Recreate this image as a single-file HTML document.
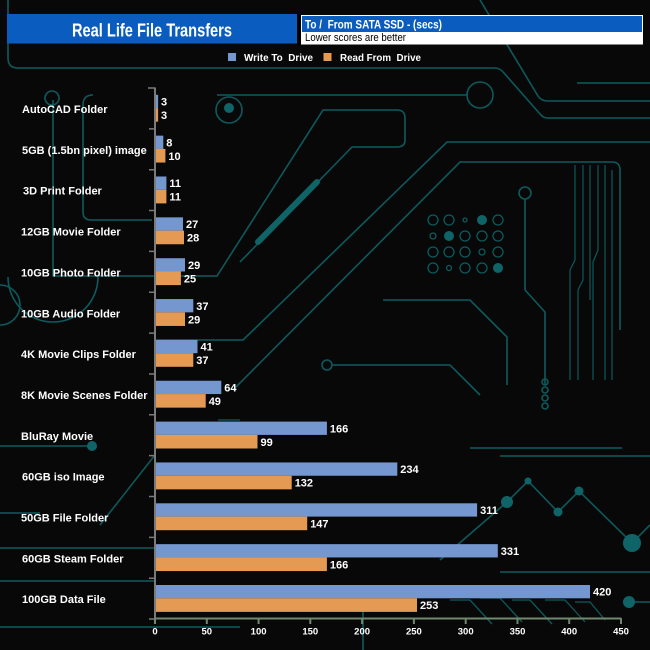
<!DOCTYPE html>
<html><head><meta charset="utf-8"><style>
html,body{margin:0;padding:0;background:#080808;}
svg{display:block;}
text{font-family:"Liberation Sans",Arial,sans-serif;}
</style></head><body>
<svg width="650" height="650" viewBox="0 0 650 650" xmlns="http://www.w3.org/2000/svg">
<rect width="650" height="650" fill="#080808"/>
<!-- circuit background -->
<g fill="none" stroke="#0d5a5d" stroke-width="1.6">
<path d="M8,0 V58 Q8,68 18,68 H495 Q500,68 504,73 L540,114 Q543,118 548,118 H650"/>
<path d="M480,0 L538,96 Q541,101 548,101 H650"/>
<path d="M577,83 H650"/>
<path d="M93,95 Q83,95 83,105 V212 Q83,220 91,220 H152"/>
<path d="M217,95 H468"/>
<circle cx="480" cy="95" r="13"/>
<circle cx="229" cy="110" r="13"/>
<path d="M53,100 V276 H217 L323,110 H397 Q405,110 405,118 V140 Q405,147 397,147 H352 L240,262"/>
<path d="M8,277 A45,45 0 0 0 98,277"/>
<circle cx="52" cy="98" r="7"/>
<path d="M155,340 H243 L447,142 H650"/>
<path d="M233,390 L460,162 H612 Q620,162 620,170 V330"/>
<path d="M575,165 V260 L570,270 V380 M583,165 V280 L578,290 V380 M590,165 V300 M598,165 V250 L593,262 V380 M605,165 V380 M612,170 V380" stroke-width="1.2"/>
<circle cx="525" cy="193" r="6"/>
<path d="M525,199 V290 L545,312 V385"/>
<path d="M383,300 H470 L507,337 V385"/>
<circle cx="327" cy="365" r="5"/>
<path d="M332,365 H450 L480,395"/>
<path d="M440,560 L507,502 L528,481 L558,512 L579,491 L632,543 L650,525"/>
<path d="M629,602 H650"/>
<path d="M500,572 H650"/>
<path d="M470,448 H622 M500,456 H650"/>
<path d="M0,446 H88"/>
<path d="M0,548 H155 M0,581 H155"/>
<path d="M0,513 H40 M100,525 L155,455"/>
<path d="M0,627 H240 M363,607 V650"/>
<path d="M450,600 H470 L492,624 M480,598 H500 L522,622 M512,600 H530 L552,624 M545,600 H565 L585,622 M575,602 H590 L605,620" stroke-width="1.3"/>
<path d="M218,420 H240 M215,425 H238 M218,430 H240" stroke-width="1.2"/>
<circle cx="545" cy="382" r="3"/><circle cx="545" cy="390" r="3"/><circle cx="545" cy="398" r="3"/><circle cx="545" cy="406" r="3"/>
<path d="M0,285 A20,20 0 0 1 0,325"/>
</g>
<g fill="#0f6468">
<circle cx="229" cy="108" r="5"/>
<circle cx="92" cy="446" r="5"/>
<circle cx="507" cy="502" r="6"/>
<circle cx="528" cy="481" r="3.5"/>
<circle cx="558" cy="512" r="4.5"/>
<circle cx="579" cy="491" r="4.5"/>
<circle cx="632" cy="543" r="9"/>
<circle cx="629" cy="602" r="6"/>
<path d="M317,182 L258,242" stroke="#0f6468" stroke-width="6" stroke-linecap="round"/>
</g>
<!-- dot grid -->
<g fill="none" stroke="#0d5a5d" stroke-width="1.3">
<circle cx="433" cy="220" r="5"/><circle cx="449" cy="220" r="5"/><circle cx="465" cy="220" r="2"/><circle cx="498" cy="220" r="5"/>
<circle cx="433" cy="236" r="3"/><circle cx="465" cy="236" r="5"/><circle cx="482" cy="236" r="5"/><circle cx="498" cy="236" r="5"/>
<circle cx="433" cy="252" r="5"/><circle cx="449" cy="252" r="5"/><circle cx="465" cy="252" r="5"/><circle cx="482" cy="252" r="3"/><circle cx="498" cy="252" r="5"/>
<circle cx="433" cy="268" r="5"/><circle cx="449" cy="268" r="2.5"/><circle cx="465" cy="268" r="5"/><circle cx="482" cy="268" r="5"/>
</g>
<g fill="#0f6468">
<circle cx="482" cy="220" r="5"/><circle cx="449" cy="236" r="5"/><circle cx="498" cy="268" r="5"/>
</g>

<!-- header -->
<rect x="7" y="14" width="290" height="29.5" fill="#0b5cbf"/>
<text x="152" y="36.5" text-anchor="middle" font-size="18" font-weight="bold" fill="#ffffff" textLength="160" lengthAdjust="spacingAndGlyphs">Real Life File Transfers</text>
<rect x="297" y="14" width="4" height="31" fill="#000"/>
<rect x="301" y="15" width="342" height="17" fill="#0b5cbf"/>
<rect x="301" y="32" width="342" height="12" fill="#ffffff"/>
<rect x="301.5" y="15.5" width="341" height="28.5" fill="none" stroke="#ffffff" stroke-width="1"/>
<text x="305" y="28.5" font-size="12" font-weight="bold" fill="#ffffff" style="white-space:pre" textLength="137" lengthAdjust="spacingAndGlyphs">To /  From SATA SSD - (secs)</text>
<text x="305" y="41" font-size="11" fill="#000000" textLength="101" lengthAdjust="spacingAndGlyphs">Lower scores are better</text>

<!-- legend -->
<rect x="228" y="53" width="8" height="8" fill="#7597cf"/>
<text x="244" y="61" font-size="10" font-weight="bold" fill="#ffffff" style="white-space:pre" textLength="69" lengthAdjust="spacingAndGlyphs">Write To  Drive</text>
<rect x="323.5" y="53" width="8" height="8" fill="#e49a52"/>
<text x="340" y="61" font-size="10" font-weight="bold" fill="#ffffff" style="white-space:pre" textLength="81" lengthAdjust="spacingAndGlyphs">Read From  Drive</text>

<!-- bars -->
<g>
<rect x="156" y="94.8" width="2.1" height="13.3" fill="#7597cf"/><rect x="156" y="108.1" width="2.1" height="13.6" fill="#e49a52"/>
<rect x="156" y="135.65" width="7.3" height="13.3" fill="#7597cf"/><rect x="156" y="148.95" width="9.4" height="13.6" fill="#e49a52"/>
<rect x="156" y="176.5" width="10.4" height="13.3" fill="#7597cf"/><rect x="156" y="189.8" width="10.4" height="13.6" fill="#e49a52"/>
<rect x="156" y="217.35" width="27" height="13.3" fill="#7597cf"/><rect x="156" y="230.65" width="28" height="13.6" fill="#e49a52"/>
<rect x="156" y="258.2" width="29" height="13.3" fill="#7597cf"/><rect x="156" y="271.5" width="24.9" height="13.6" fill="#e49a52"/>
<rect x="156" y="299.05" width="37.3" height="13.3" fill="#7597cf"/><rect x="156" y="312.35" width="29" height="13.6" fill="#e49a52"/>
<rect x="156" y="339.9" width="41.5" height="13.3" fill="#7597cf"/><rect x="156" y="353.2" width="37.3" height="13.6" fill="#e49a52"/>
<rect x="156" y="380.75" width="65.3" height="13.3" fill="#7597cf"/><rect x="156" y="394.05" width="49.7" height="13.6" fill="#e49a52"/>
<rect x="156" y="421.6" width="170.9" height="13.3" fill="#7597cf"/><rect x="156" y="434.9" width="101.5" height="13.6" fill="#e49a52"/>
<rect x="156" y="462.45" width="241.3" height="13.3" fill="#7597cf"/><rect x="156" y="475.75" width="135.7" height="13.6" fill="#e49a52"/>
<rect x="156" y="503.3" width="321.1" height="13.3" fill="#7597cf"/><rect x="156" y="516.6" width="151.2" height="13.6" fill="#e49a52"/>
<rect x="156" y="544.15" width="341.8" height="13.3" fill="#7597cf"/><rect x="156" y="557.45" width="170.9" height="13.6" fill="#e49a52"/>
<rect x="156" y="585" width="434" height="13.3" fill="#7597cf"/><rect x="156" y="598.3" width="261" height="13.6" fill="#e49a52"/>
</g>

<!-- value labels -->
<g font-size="11" font-weight="bold" fill="#ffffff">
<text x="161" y="105.5">3</text><text x="161" y="119">3</text>
<text x="166.3" y="146.4">8</text><text x="168.4" y="159.9">10</text>
<text x="169.4" y="187.2">11</text><text x="169.4" y="200.7">11</text>
<text x="186" y="228">27</text><text x="187" y="241.6">28</text>
<text x="188" y="268.9">29</text><text x="183.9" y="282.4">25</text>
<text x="196.3" y="309.8">37</text><text x="188" y="323.3">29</text>
<text x="200.5" y="350.6">41</text><text x="196.3" y="364.1">37</text>
<text x="224.3" y="391.5">64</text><text x="208.7" y="405">49</text>
<text x="329.9" y="432.3">166</text><text x="260.5" y="445.8">99</text>
<text x="400.3" y="473.2">234</text><text x="294.7" y="486.7">132</text>
<text x="480.1" y="514">311</text><text x="310.2" y="527.5">147</text>
<text x="500.8" y="554.9">331</text><text x="329.9" y="568.4">166</text>
<text x="593" y="595.7">420</text><text x="420" y="609.2">253</text>
</g>

<!-- category labels -->
<g font-size="11" font-weight="bold" fill="#ffffff">
<text x="22" y="113">AutoCAD Folder</text>
<text x="22" y="153.9">5GB (1.5bn pixel) image</text>
<text x="23" y="194.7">3D Print Folder</text>
<text x="21" y="235.6">12GB Movie Folder</text>
<text x="21" y="276.4">10GB Photo Folder</text>
<text x="21" y="317.3">10GB Audio Folder</text>
<text x="21" y="358.1">4K Movie Clips Folder</text>
<text x="21" y="399">8K Movie Scenes Folder</text>
<text x="21" y="439.8">BluRay Movie</text>
<text x="22" y="480.7">60GB iso Image</text>
<text x="21" y="521.5">50GB File Folder</text>
<text x="22" y="562.4">60GB Steam Folder</text>
<text x="22" y="603.2">100GB Data File</text>
</g>

<!-- axes -->
<g stroke="#7a7a7a" stroke-width="1.5">
<path d="M148,88 H155 M149,128.85 H155 M149,169.7 H155 M149,210.55 H155 M149,251.4 H155 M149,292.25 H155 M149,333.1 H155 M149,373.95 H155 M149,414.8 H155 M149,455.65 H155 M149,496.5 H155 M149,537.35 H155 M149,578.2 H155 M149,619 H155"/>
</g>
<line x1="155" y1="87.5" x2="155" y2="620" stroke="#7a7a7a" stroke-width="2"/>
<g stroke="#71886f" stroke-width="2">
<line x1="155" y1="618.5" x2="621" y2="618.5"/>
<path d="M155,618 V624 M206.8,618 V624 M258.6,618 V624 M310.3,618 V624 M362.1,618 V624 M413.9,618 V624 M465.7,618 V624 M517.5,618 V624 M569.2,618 V624 M621,618 V624"/>
</g>
<g font-size="9.5" font-weight="bold" fill="#ffffff" text-anchor="middle">
<text x="155" y="634.5">0</text>
<text x="206.8" y="634.5">50</text>
<text x="258.6" y="634.5">100</text>
<text x="310.3" y="634.5">150</text>
<text x="362.1" y="634.5">200</text>
<text x="413.9" y="634.5">250</text>
<text x="465.7" y="634.5">300</text>
<text x="517.5" y="634.5">350</text>
<text x="569.2" y="634.5">400</text>
<text x="621" y="634.5">450</text>
</g>
</svg>
</body></html>
